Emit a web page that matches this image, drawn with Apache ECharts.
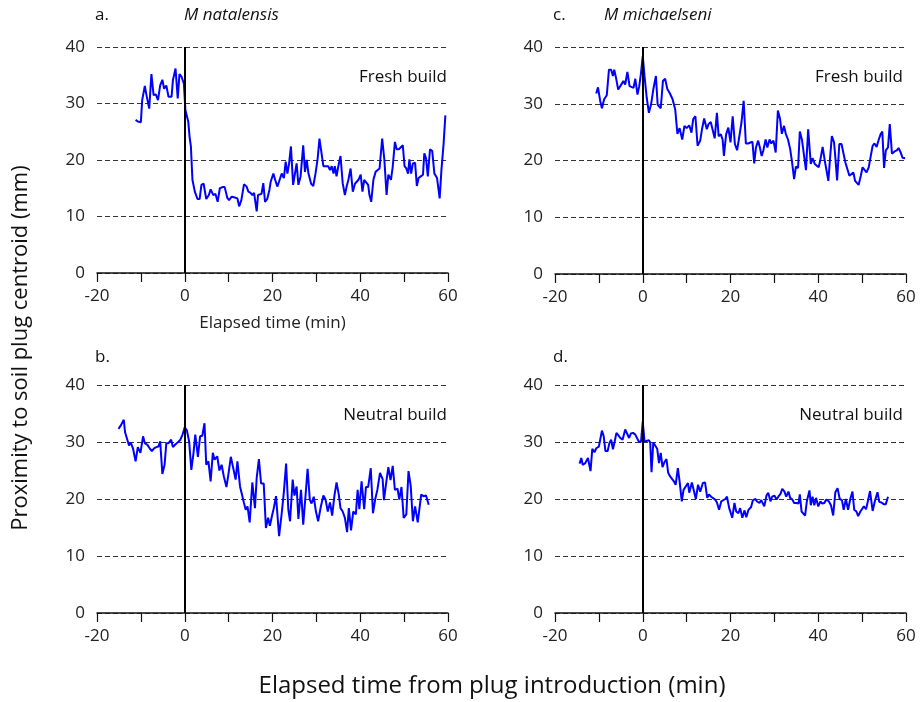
<!DOCTYPE html>
<html>
<head>
    <meta charset="utf-8">
    <script src="https://cdn.jsdelivr.net/npm/echarts@6/dist/echarts.min.js"></script>
    <style>
        html, body { margin: 0; padding: 0; background: #fff; }
    </style>
</head>
<body>
    <div id="main" style="width: 921px;height:702px;"></div>
    <script type="text/javascript">
        // [elapsed time (min), proximity (mm)] per panel
        var natalensisFresh = [
            [-11.2,27.1],[-10.7,26.8],[-10,26.7],[-9.7,30.6],[-9.1,33.1],[-8.8,31.8],[-8.1,29.1],[-7.6,35.2],[-7.1,31.5],[-6.6,31.6],
            [-6.1,30.6],[-5.6,33.2],[-5.1,34.2],[-4.7,32.6],[-4.2,33.2],[-3.7,31.2],[-3.0,31.2],[-2.7,34.1],[-2.1,36.2],[-1.6,30.9],
            [-1.2,35.2],[-0.7,34.7],[-0.2,33.5],[0.15,28.8],[0.8,26.8],[1.1,24.1],[1.4,22.4],[1.75,16.5],[2.3,14.4],[2.9,13.1],
            [3.4,13.1],[3.8,15.6],[4.3,15.8],[4.9,13.1],[5.5,13.8],[5.9,14.8],[6.5,13.8],[7.0,14.0],[7.5,12.6],[8.0,15.0],
            [8.6,15.2],[9.1,15.2],[9.7,13.3],[10.1,12.9],[10.7,13.5],[11.2,13.4],[11.6,13.6],[12.0,13.2],[12.4,11.8],[12.9,12.9],
            [13.5,15.7],[14.1,15.3],[14.5,14.4],[15.0,14.2],[15.4,13.8],[15.8,14.2],[16.4,10.9],[16.7,13.8],[17.1,13.5],[17.5,14.0],
            [17.9,15.9],[18.3,12.6],[18.8,13.1],[19.3,14.7],[19.6,16.2],[20.2,17.6],[20.6,16.5],[21.1,15.3],[21.5,16.2],[22.1,17.6],
            [22.6,16.8],[23.0,19.7],[23.4,17.6],[23.8,19.5],[24.2,22.4],[24.7,15.6],[25.1,15.3],[25.5,19.4],[25.9,15.6],[26.4,17.1],
            [27.0,22.6],[27.4,17.9],[27.8,20.0],[28.2,17.6],[28.8,15.8],[29.3,15.4],[29.8,17.6],[30.3,20.3],[30.7,23.8],[31.1,24.1],
            [31.6,18.9],[32.2,18.9],[32.7,18.9],[33.1,18.2],[33.5,18.9],[33.9,17.6],[34.2,18.9],[34.6,17.1],[35.0,18.9],[35.5,20.7],
            [36.0,15.9],[36.5,13.8],[36.9,15.3],[37.3,16.5],[37.8,18.5],[38.3,14.4],[38.8,15.8],[39.2,16.0],[39.6,16.5],[40.1,17.4],
            [40.5,14.4],[40.9,16.5],[41.3,16.8],[41.8,15.6],[42.1,13.8],[42.5,12.6],[43.0,16.5],[43.5,17.9],[43.9,18.2],[44.4,18.5],
            [45.0,23.8],[45.5,20.0],[46.0,13.8],[46.4,17.4],[47.0,16.5],[47.4,18.8],[47.9,23.2],[48.3,21.9],[48.8,21.9],[49.2,22.1],
            [49.7,22.6],[50.1,18.9],[50.5,18.5],[50.9,17.6],[51.2,20.1],[51.6,17.6],[52.0,19.4],[52.5,19.5],[52.9,15.4],[53.3,16.8],
            [53.8,17.1],[54.3,17.4],[54.6,21.2],[55.0,20.3],[55.4,17.1],[55.9,21.9],[56.4,21.6],[56.9,17.6],[57.5,16.8],[58.1,13.2],
            [58.5,18.2],[59.0,22.9],[59.4,27.9]
        ];

        var natalensisNeutral = [
            [-15.1,32.3],[-14.5,33.0],[-13.9,33.9],[-13.6,31.7],[-13.2,31.6],[-12.7,29.4],[-12.3,29.9],[-11.8,28.9],[-11.2,26.6],[-10.7,29.1],
            [-10.1,28.1],[-9.5,31.0],[-9.1,29.8],[-8.5,29.5],[-8.0,28.9],[-7.5,28.4],[-7.0,28.9],[-6.5,29.1],[-6.0,29.2],[-5.6,30.1],
            [-5.1,24.4],[-4.6,26.0],[-4.2,29.8],[-3.7,29.8],[-3.1,30.4],[-2.7,29.1],[-2.1,29.6],[-1.5,30.0],[-1.0,30.4],[-0.5,31.3],
            [0.0,32.6],[0.5,32.0],[1.0,30.1],[1.5,25.1],[2.0,28.1],[2.4,31.3],[3.0,27.4],[3.5,31.0],[4.0,31.1],[4.5,33.3],
            [4.9,26.0],[5.4,26.6],[5.9,23.1],[6.4,28.1],[6.8,26.9],[7.4,27.5],[7.9,25.0],[8.4,26.0],[8.9,24.0],[9.5,22.1],
            [10.0,24.6],[10.5,27.4],[11.0,25.6],[11.6,23.4],[12.0,26.6],[12.6,22.2],[12.9,22.3],[13.5,19.3],[13.9,18.1],[14.3,18.7],
            [14.8,15.9],[15.4,22.9],[16.0,18.4],[16.4,23.7],[16.9,27.0],[17.4,22.7],[18.0,22.7],[18.5,14.9],[19.0,16.7],[19.4,15.3],
            [19.9,17.1],[20.3,18.4],[20.8,20.5],[21.2,20.4],[21.5,13.5],[22.1,17.5],[22.6,21.3],[23.1,26.2],[23.6,18.2],[24.0,16.1],
            [24.6,23.4],[25.0,20.6],[25.5,22.2],[25.9,16.5],[26.5,21.6],[27.0,15.5],[27.6,21.3],[28.0,25.3],[28.5,19.9],[28.9,19.2],
            [29.4,20.4],[29.9,17.8],[30.4,16.1],[31.0,18.6],[31.6,20.6],[32.1,19.9],[32.6,17.8],[33.1,19.4],[33.6,17.1],[34.1,20.5],
            [34.6,22.9],[35.1,20.8],[35.5,18.4],[36.0,17.8],[36.5,16.7],[37.0,14.2],[37.4,18.4],[37.9,14.5],[38.4,17.8],[39.0,17.3],
            [39.4,21.6],[39.8,18.2],[40.3,23.1],[40.9,18.2],[41.3,22.1],[41.8,22.1],[42.4,25.4],[42.9,17.5],[43.4,19.9],[43.9,21.6],
            [44.5,24.6],[45.1,23.5],[45.4,19.8],[45.9,22.8],[46.4,25.6],[46.9,23.3],[47.4,25.8],[47.9,21.6],[48.5,21.8],[48.9,19.9],
            [49.4,22.1],[49.9,16.7],[50.5,17.3],[51.0,24.9],[51.5,22.3],[52.0,16.1],[52.5,18.7],[53.1,15.9],[53.5,15.7],[53.9,20.8],
            [54.4,20.5],[55.0,20.6],[55.6,19.0]
        ];

        var michaelseniFresh = [
            [-10.6,31.8],[-10.2,32.9],[-9.7,30.5],[-9.3,29.2],[-8.8,30.8],[-8.2,31.5],[-7.7,36.0],[-7.2,36.0],[-6.8,34.9],[-6.5,36.0],
            [-6.1,34.6],[-5.6,32.5],[-5.2,32.2],[-4.8,33.5],[-4.4,34.0],[-4.0,33.4],[-3.5,35.6],[-3.0,33.1],[-2.6,32.9],[-2.1,32.8],
            [-1.7,34.4],[-1.2,31.6],[-0.8,33.1],[-0.4,35.4],[0.0,38.4],[0.4,34.9],[0.9,31.1],[1.4,28.4],[1.9,29.9],[2.4,32.5],
            [3.0,34.9],[3.4,29.8],[4.1,29.2],[4.6,34.0],[5.1,34.4],[5.6,32.6],[6.2,31.8],[6.8,30.8],[7.4,29.0],[7.9,24.7],
            [8.4,25.7],[9.0,23.7],[9.5,26.1],[10.0,25.7],[10.6,26.2],[11.1,24.9],[11.5,27.3],[12.0,27.8],[12.5,22.6],[13.1,23.5],
            [13.5,25.5],[14.0,27.4],[14.6,25.5],[15.0,26.4],[15.5,26.8],[15.9,26.7],[16.4,23.9],[16.9,28.4],[17.3,24.3],[17.8,24.6],
            [18.2,23.7],[18.5,20.8],[19.0,24.6],[19.5,25.8],[20.0,23.2],[20.5,27.8],[21.0,22.9],[21.5,21.8],[21.9,23.7],[22.5,26.7],
            [23.0,30.5],[23.5,23.0],[24.0,23.0],[24.4,23.2],[25.0,23.3],[25.4,19.5],[25.8,22.3],[26.3,23.5],[26.7,22.3],[27.1,20.8],
            [27.5,21.8],[28.0,23.7],[28.4,22.3],[28.9,23.7],[29.3,23.0],[29.8,23.5],[30.3,21.4],[30.8,28.8],[31.3,27.3],[31.7,24.7],
            [32.2,26.1],[32.6,24.7],[33.1,23.7],[33.6,22.0],[34.0,19.9],[34.5,16.7],[34.9,18.9],[35.4,18.7],[35.8,25.1],[36.3,23.6],
            [36.7,23.6],[37.2,18.3],[37.7,25.5],[38.3,19.4],[38.7,20.4],[39.2,19.4],[39.6,19.6],[40.1,18.8],[40.5,20.2],[41.0,22.4],
            [41.5,19.9],[41.9,18.2],[42.3,16.4],[42.7,20.5],[43.1,24.3],[43.6,23.2],[43.9,20.5],[44.3,16.5],[44.8,22.9],[45.3,22.9],
            [45.7,23.0],[46.2,19.6],[46.6,19.4],[47.1,17.3],[47.5,17.0],[48.0,17.9],[48.4,16.4],[48.7,16.7],[49.2,15.7],[49.7,17.3],
            [50.1,18.8],[50.6,18.3],[51.0,17.9],[51.5,18.8],[51.9,20.5],[52.4,22.6],[52.8,23.0],[53.3,22.4],[53.8,23.7],[54.2,24.6],
            [54.6,25.1],[55.0,18.7],[55.4,21.8],[55.9,22.3],[56.3,26.4],[56.8,21.2],[57.4,21.6],[57.9,21.8],[58.3,22.2],[58.8,21.4],
            [59.2,20.5],[59.8,20.4]
        ];

        var michaelseniNeutral = [
            [-14.4,26.2],[-14.0,27.2],[-13.7,26.0],[-13.1,26.3],[-12.5,27.2],[-11.9,24.9],[-11.5,28.8],[-11.0,28.2],[-10.6,28.9],[-10.0,29.2],
            [-9.6,29.1],[-9.3,32.0],[-8.9,31.0],[-8.5,28.4],[-8.0,28.4],[-7.6,29.8],[-7.2,30.4],[-6.8,28.7],[-6.4,30.1],[-6.0,31.6],
            [-5.5,31.1],[-5.1,30.7],[-4.6,30.4],[-4.0,32.2],[-3.6,32.2],[-3.1,30.7],[-2.7,31.5],[-2.2,31.6],[-1.7,31.3],[-1.3,31.6],
            [-0.9,30.1],[-0.4,30.0],[0.0,33.6],[0.4,30.1],[0.8,30.0],[1.4,30.3],[1.7,29.9],[2.0,24.7],[2.4,29.9],[2.8,29.7],
            [3.3,28.8],[3.7,26.3],[4.1,28.1],[4.5,25.6],[4.9,26.4],[5.4,27.0],[5.8,24.6],[6.2,24.0],[6.6,24.3],[7.1,23.1],
            [7.5,22.5],[8.0,25.4],[8.4,23.1],[8.9,19.6],[9.3,21.6],[9.8,22.2],[10.3,22.8],[10.6,21.1],[11.2,22.9],[11.6,23.1],
            [12.1,20.0],[12.6,22.5],[13.1,21.3],[13.7,22.8],[14.2,22.9],[14.7,20.2],[15.1,20.8],[15.6,20.4],[16.0,20.5],[16.5,19.9],
            [16.9,19.4],[17.4,18.1],[17.9,19.6],[18.3,19.8],[18.8,20.0],[19.2,20.4],[19.7,18.4],[20.0,18.7],[20.4,16.7],[20.9,19.3],
            [21.3,17.8],[21.8,17.5],[22.2,18.4],[22.7,16.7],[23.2,18.0],[23.6,16.8],[24.1,18.1],[24.7,18.6],[25.1,19.8],[25.7,20.0],
            [26.0,19.6],[26.6,19.3],[27.0,19.8],[27.4,20.0],[27.7,18.7],[28.2,20.6],[28.6,21.1],[29.1,19.6],[29.5,20.4],[30.0,20.6],
            [30.5,19.9],[30.9,20.4],[31.4,20.9],[31.8,21.8],[32.3,21.3],[32.7,20.4],[33.2,21.3],[33.6,20.2],[34.1,19.9],[34.5,19.3],
            [35.0,19.3],[35.5,19.2],[35.8,20.8],[36.2,17.8],[36.5,18.1],[37.0,17.1],[37.4,19.6],[38.0,21.5],[38.3,18.9],[38.7,20.4],
            [39.1,18.9],[39.5,20.2],[40.0,18.7],[40.5,19.6],[40.9,19.2],[41.4,19.3],[41.8,19.9],[42.4,19.6],[42.9,18.9],[43.4,17.1],
            [43.9,21.2],[44.4,21.9],[44.9,20.0],[45.4,19.8],[45.8,18.1],[46.3,20.0],[46.8,18.1],[47.3,20.0],[47.8,21.3],[48.2,18.1],
            [48.7,17.8],[49.1,17.0],[49.6,17.8],[50.0,18.1],[50.4,18.7],[50.9,18.2],[51.4,19.9],[51.8,21.4],[52.4,17.9],[52.9,19.6],
            [53.5,21.2],[53.9,19.5],[54.4,19.4],[54.9,19.1],[55.4,19.1],[55.9,20.4]
        ];

        var panelData = [natalensisFresh, michaelseniFresh, natalensisNeutral, michaelseniNeutral];
        var xTicks = { min: -20, max: 60, step: 10, labelStep: 20 };
        var yTicks = { min: 0, max: 40, step: 10 };

        var grids = [
            {left: 97, top: 47, width: 351, height: 226},
            {left: 555, top: 47, width: 351, height: 227},
            {left: 97, top: 385, width: 351, height: 228},
            {left: 555, top: 385, width: 351, height: 228}
        ];

        var fontFam = '"Open Sans", "DejaVu Sans", sans-serif';
        var xAxes = [], yAxes = [], series = [];
        for (var i = 0; i < 4; i++) {
            grids[i].outerBoundsMode = 'none';
            grids[i].containLabel = false;
            xAxes.push({
                gridIndex: i,
                type: 'value',
                min: xTicks.min,
                max: xTicks.max,
                interval: xTicks.step,
                name: i === 0 ? 'Elapsed time (min)' : '',
                nameLocation: 'middle',
                nameGap: 42,
                nameTextStyle: {fontSize: 17, color: '#222', fontFamily: fontFam},
                axisLine: {onZero: false, lineStyle: {color: '#111', width: 1.5}},
                axisTick: {show: true, inside: false, length: 9, lineStyle: {color: '#111', width: 1.2}},
                axisLabel: {
                    fontSize: 17, color: '#222', fontFamily: fontFam, margin: 15,
                    formatter: function (v) { return v % xTicks.labelStep === 0 ? String(v) : ''; }
                },
                splitLine: {show: false}
            });
            yAxes.push({
                gridIndex: i,
                type: 'value',
                min: yTicks.min,
                max: yTicks.max,
                interval: yTicks.step,
                axisLine: {show: false},
                axisTick: {show: false},
                axisLabel: {fontSize: 17, color: '#222', fontFamily: fontFam, margin: 12},
                splitLine: {show: true, lineStyle: {color: '#333', width: 1, type: [5, 3]}}
            });
            series.push({
                type: 'line',
                xAxisIndex: i,
                yAxisIndex: i,
                data: panelData[i],
                showSymbol: false,
                lineStyle: {color: '#0000ff', width: 2},
                z: 3,
                markLine: {
                    silent: true,
                    symbol: 'none',
                    label: {show: false},
                    lineStyle: {color: '#000', width: 2, type: 'solid'},
                    data: [{xAxis: 0}]
                }
            });
        }

        function txt(t, x, y, opts) {
            opts = opts || {};
            return {
                type: 'text',
                x: x, y: y,
                rotation: opts.rotation || 0,
                style: {
                    text: t,
                    fill: '#111',
                    fontSize: opts.size || 17,
                    fontFamily: fontFam,
                    fontStyle: opts.italic ? 'italic' : 'normal',
                    textAlign: opts.align || 'left',
                    textVerticalAlign: 'middle'
                }
            };
        }

        var option = {
            animation: false,
            backgroundColor: '#fff',
            grid: grids,
            xAxis: xAxes,
            yAxis: yAxes,
            series: series,
            graphic: [
                txt('a.', 95, 15),
                txt('M natalensis', 184, 15, {italic: true}),
                txt('c.', 553, 15),
                txt('M michaelseni', 604, 15, {italic: true}),
                txt('b.', 95, 357),
                txt('d.', 553, 357),
                txt('Fresh build', 447, 77, {align: 'right', size: 17}),
                txt('Fresh build', 903, 77, {align: 'right', size: 17}),
                txt('Neutral build', 447, 415, {align: 'right', size: 17}),
                txt('Neutral build', 903, 415, {align: 'right', size: 17}),
                txt('Elapsed time from plug introduction (min)', 492, 686, {align: 'center', size: 24}),
                txt('Proximity to soil plug centroid (mm)', 21, 348, {align: 'center', size: 22, rotation: Math.PI / 2})
            ]
        };

        var myChart = echarts.init(document.getElementById('main'));
        myChart.setOption(option);
    </script>
</body>
</html>
